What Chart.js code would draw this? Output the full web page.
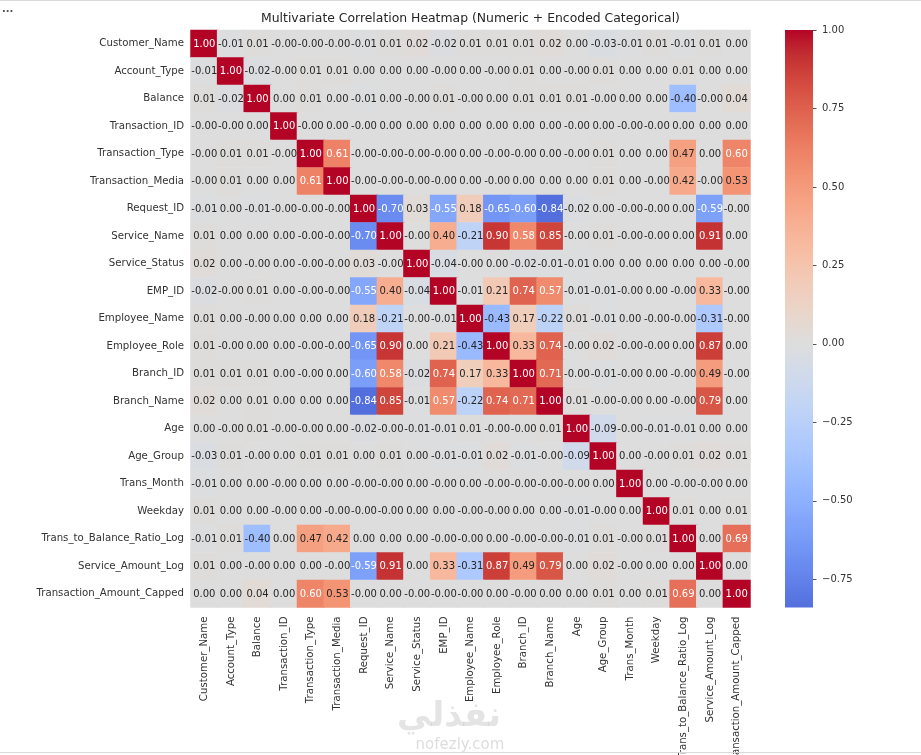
<!DOCTYPE html>
<html>
<head>
<meta charset="utf-8">
<script src="https://cdn.jsdelivr.net/npm/chart.js@4.4.1/dist/chart.umd.min.js"></script>
<style>
  html, body { margin: 0; padding: 0; background: #fff; }
  #wrap { position: relative; width: 921px; height: 755px; overflow: hidden; }
  .rule { position: absolute; left: 0; width: 921px; height: 1px; background: #d9d9d9; }
  #dots { position: absolute; left: 2px; top: 3px; font: bold 10px "DejaVu Sans"; color: #555; }
</style>
</head>
<body>
<div id="wrap">
  <canvas id="heat"></canvas>
  <div class="rule" style="top:0"></div>
  <div class="rule" style="top:752px"></div>
  <div id="dots">...</div>
</div>
<script>
const features = ['Customer_Name', 'Account_Type', 'Balance', 'Transaction_ID', 'Transaction_Type',
  'Transaction_Media', 'Request_ID', 'Service_Name', 'Service_Status', 'EMP_ID', 'Employee_Name',
  'Employee_Role', 'Branch_ID', 'Branch_Name', 'Age', 'Age_Group', 'Trans_Month', 'Weekday',
  'Trans_to_Balance_Ratio_Log', 'Service_Amount_Log', 'Transaction_Amount_Capped'];

// one row of the correlation matrix per feature (-0.00 kept as negative zero)
const customerName   = [1.00,-0.01,0.01,-0.00,-0.00,-0.00,-0.01,0.01,0.02,-0.02,0.01,0.01,0.01,0.02,0.00,-0.03,-0.01,0.01,-0.01,0.01,0.00];
const accountType    = [-0.01,1.00,-0.02,-0.00,0.01,0.01,0.00,0.00,0.00,-0.00,0.00,-0.00,0.01,0.00,-0.00,0.01,0.00,0.00,0.01,0.00,0.00];
const balance        = [0.01,-0.02,1.00,0.00,0.01,0.00,-0.01,0.00,-0.00,0.01,-0.00,0.00,0.01,0.01,0.01,-0.00,0.00,0.00,-0.40,-0.00,0.04];
const transactionId  = [-0.00,-0.00,0.00,1.00,-0.00,0.00,-0.00,0.00,0.00,0.00,0.00,0.00,0.00,0.00,-0.00,0.00,-0.00,-0.00,0.00,0.00,0.00];
const transType      = [-0.00,0.01,0.01,-0.00,1.00,0.61,-0.00,-0.00,-0.00,-0.00,0.00,-0.00,-0.00,0.00,-0.00,0.01,0.00,0.00,0.47,0.00,0.60];
const transMedia     = [-0.00,0.01,0.00,0.00,0.61,1.00,-0.00,-0.00,-0.00,-0.00,0.00,-0.00,0.00,0.00,0.00,0.01,0.00,-0.00,0.42,-0.00,0.53];
const requestId      = [-0.01,0.00,-0.01,-0.00,-0.00,-0.00,1.00,-0.70,0.03,-0.55,0.18,-0.65,-0.60,-0.84,-0.02,0.00,-0.00,-0.00,0.00,-0.59,-0.00];
const serviceName    = [0.01,0.00,0.00,0.00,-0.00,-0.00,-0.70,1.00,-0.00,0.40,-0.21,0.90,0.58,0.85,-0.00,0.01,-0.00,-0.00,0.00,0.91,0.00];
const serviceStatus  = [0.02,0.00,-0.00,0.00,-0.00,-0.00,0.03,-0.00,1.00,-0.04,-0.00,0.00,-0.02,-0.01,-0.01,0.00,0.00,0.00,0.00,0.00,-0.00];
const empId          = [-0.02,-0.00,0.01,0.00,-0.00,-0.00,-0.55,0.40,-0.04,1.00,-0.01,0.21,0.74,0.57,-0.01,-0.01,-0.00,0.00,-0.00,0.33,-0.00];
const employeeName   = [0.01,0.00,-0.00,0.00,0.00,0.00,0.18,-0.21,-0.00,-0.01,1.00,-0.43,0.17,-0.22,0.01,-0.01,0.00,-0.00,-0.00,-0.31,-0.00];
const employeeRole   = [0.01,-0.00,0.00,0.00,-0.00,-0.00,-0.65,0.90,0.00,0.21,-0.43,1.00,0.33,0.74,-0.00,0.02,-0.00,-0.00,0.00,0.87,0.00];
const branchId       = [0.01,0.01,0.01,0.00,-0.00,0.00,-0.60,0.58,-0.02,0.74,0.17,0.33,1.00,0.71,-0.00,-0.01,-0.00,0.00,-0.00,0.49,-0.00];
const branchName     = [0.02,0.00,0.01,0.00,0.00,0.00,-0.84,0.85,-0.01,0.57,-0.22,0.74,0.71,1.00,0.01,-0.00,-0.00,0.00,-0.00,0.79,0.00];
const age            = [0.00,-0.00,0.01,-0.00,-0.00,0.00,-0.02,-0.00,-0.01,-0.01,0.01,-0.00,-0.00,0.01,1.00,-0.09,-0.00,-0.01,-0.01,0.00,0.00];
const ageGroup       = [-0.03,0.01,-0.00,0.00,0.01,0.01,0.00,0.01,0.00,-0.01,-0.01,0.02,-0.01,-0.00,-0.09,1.00,0.00,-0.00,0.01,0.02,0.01];
const transMonth     = [-0.01,0.00,0.00,-0.00,0.00,0.00,-0.00,-0.00,0.00,-0.00,0.00,-0.00,-0.00,-0.00,-0.00,0.00,1.00,0.00,-0.00,-0.00,0.00];
const weekday        = [0.01,0.00,0.00,-0.00,0.00,-0.00,-0.00,-0.00,0.00,0.00,-0.00,-0.00,0.00,0.00,-0.01,-0.00,0.00,1.00,0.01,0.00,0.01];
const balanceRatio   = [-0.01,0.01,-0.40,0.00,0.47,0.42,0.00,0.00,0.00,-0.00,-0.00,0.00,-0.00,-0.00,-0.01,0.01,-0.00,0.01,1.00,0.00,0.69];
const serviceAmount  = [0.01,0.00,-0.00,0.00,0.00,-0.00,-0.59,0.91,0.00,0.33,-0.31,0.87,0.49,0.79,0.00,0.02,-0.00,0.00,0.00,1.00,0.00];
const amountCapped   = [0.00,0.00,0.04,0.00,0.60,0.53,-0.00,0.00,-0.00,-0.00,-0.00,0.00,-0.00,0.00,0.00,0.01,0.00,0.01,0.69,0.00,1.00];

const matrix = [customerName, accountType, balance, transactionId, transType, transMedia, requestId,
  serviceName, serviceStatus, empId, employeeName, employeeRole, branchId, branchName, age, ageGroup,
  transMonth, weekday, balanceRatio, serviceAmount, amountCapped];

const cbarTicks = [-0.75, -0.50, -0.25, 0.00, 0.25, 0.50, 0.75, 1.00];

// coolwarm colormap control colours
const coolwarmStops = [
  [59,76,192],[68,90,204],[77,104,215],[87,117,225],[98,130,234],[108,142,241],[119,154,247],
  [130,165,251],[141,176,254],[152,185,255],[163,194,255],[174,201,253],[184,208,249],[194,213,244],
  [204,217,238],[213,219,230],[221,221,221],[229,216,209],[236,211,197],[241,204,185],[245,196,173],
  [247,187,160],[247,177,148],[247,166,135],[244,154,123],[241,141,111],[236,127,99],[229,112,88],
  [222,96,77],[213,80,66],[203,62,56],[192,40,47],[180,4,38]];

const vmin = Math.min(...matrix.flat());
const vmax = Math.max(...matrix.flat());
const vrange = Math.max(vmax, -vmin); // centred on 0

function coolwarm(t) {
  t = Math.min(1, Math.max(0, t));
  const p = t * (coolwarmStops.length - 1);
  const i = Math.min(Math.floor(p), coolwarmStops.length - 2);
  const f = p - i;
  const a = coolwarmStops[i], b = coolwarmStops[i + 1];
  return a.map((c, k) => c + (b[k] - c) * f);
}
function valueRgb(v) { return coolwarm((v + vrange) / (2 * vrange)); }
function css(rgb) { return 'rgb(' + rgb.map(Math.round).join(',') + ')'; }
function luminance(rgb) {
  const lin = rgb.map(c => { c /= 255; return c <= 0.03928 ? c / 12.92 : Math.pow((c + 0.055) / 1.055, 2.4); });
  return 0.2126 * lin[0] + 0.7152 * lin[1] + 0.0722 * lin[2];
}
function fmtCell(v) { return (Object.is(v, -0) ? '-' : '') + v.toFixed(2); }
function fmtBar(v) { return v < 0 ? '\u2212' + Math.abs(v).toFixed(2) : v.toFixed(2); }

const cells = [];
matrix.forEach((row, i) => {
  row.forEach((v, j) => cells.push({ x: features[j], y: features[i], v: v }));
});

Chart.defaults.font.family = '"DejaVu Sans", sans-serif';
Chart.defaults.color = '#262626';

const cellSize = ctx => {
  const s = ctx.chart.scales;
  if (!s.x || !s.y) return 10;
  const side = Math.max(s.x.width, s.y.height) / features.length;
  return (side + 0.6) / Math.SQRT2;
};

const extras = {
  id: 'extras',
  afterDatasetsDraw(chart) {
    const ctx = chart.ctx;
    const meta = chart.getDatasetMeta(0);
    ctx.save();
    ctx.font = '10px "DejaVu Sans"';
    ctx.textAlign = 'center';
    ctx.textBaseline = 'middle';
    meta.data.forEach((el, k) => {
      const v = cells[k].v;
      ctx.fillStyle = luminance(valueRgb(v)) > 0.408 ? '#262626' : '#ffffff';
      ctx.fillText(fmtCell(v), el.x, el.y + 0.5);
    });
    ctx.restore();
  },
  afterDraw(chart) {
    const { ctx, chartArea } = chart;
    const cb = chart.scales.cb;
    ctx.save();
    // title
    ctx.font = '12.4px "DejaVu Sans"';
    ctx.fillStyle = '#262626';
    ctx.textAlign = 'center';
    ctx.textBaseline = 'middle';
    ctx.fillText('Multivariate Correlation Heatmap (Numeric + Encoded Categorical)',
      (chartArea.left + chartArea.right) / 2, 19);

    // colour bar
    const x0 = chartArea.right + 35, w = 28;
    const yTop = cb.getPixelForValue(vmax), yBot = cb.getPixelForValue(vmin);
    const grad = ctx.createLinearGradient(0, yBot, 0, yTop);
    const n = 48;
    for (let s = 0; s <= n; s++) {
      grad.addColorStop(s / n, css(valueRgb(vmin + (vmax - vmin) * s / n)));
    }
    ctx.fillStyle = grad;
    ctx.fillRect(x0, yTop, w, yBot - yTop);
    ctx.strokeStyle = '#262626';
    ctx.lineWidth = 0.8;
    cb.ticks.forEach(t => {
      const y = Math.round(cb.getPixelForValue(t.value)) + 0.5;
      ctx.beginPath();
      ctx.moveTo(x0 + w, y);
      ctx.lineTo(x0 + w + 3.5, y);
      ctx.stroke();
    });

    // watermark
    ctx.textAlign = 'center';
    ctx.fillStyle = 'rgba(120,120,120,0.2)';
    ctx.font = 'bold 34px "DejaVu Sans"';
    ctx.fillText('نفذلي', 449, 717);
    ctx.fillStyle = 'rgba(120,120,120,0.25)';
    ctx.font = '15px "DejaVu Sans"';
    ctx.fillText('nofezly.com', 460, 745);
    ctx.restore();
  }
};

new Chart(document.getElementById('heat'), {
  type: 'scatter',
  data: {
    datasets: [{
      data: cells,
      xAxisID: 'x',
      yAxisID: 'y',
      pointStyle: 'rect',
      radius: cellSize,
      hoverRadius: cellSize,
      borderWidth: 0,
      hoverBorderWidth: 0,
      backgroundColor: c => c.raw ? css(valueRgb(c.raw.v)) : '#ddd'
    }]
  },
  options: {
    responsive: true,
    maintainAspectRatio: false,
    animation: false,
    events: [],
    layout: { padding: { top: 30, left: 0, right: 0, bottom: 0 } },
    plugins: { legend: { display: false }, tooltip: { enabled: false }, title: { display: false } },
    scales: {
      x: {
        type: 'category',
        labels: features,
        offset: true,
        position: 'bottom',
        grid: { display: false, drawTicks: false },
        border: { display: false },
        ticks: { autoSkip: false, minRotation: 90, maxRotation: 90, padding: 9, color: '#333',
          font: { size: 10.2 } },
        afterFit: s => { s.height = 147.5; }
      },
      y: {
        type: 'category',
        labels: features,
        offset: true,
        position: 'left',
        grid: { display: false, drawTicks: false },
        border: { display: false },
        ticks: { autoSkip: false, padding: 7, color: '#333', font: { size: 10.2 } },
        afterFit: s => { s.width = 191; s.paddingTop = 6; s.paddingBottom = 6; }
      },
      cb: {
        type: 'linear',
        axis: 'y',
        position: 'right',
        min: vmin,
        max: vmax,
        grid: { display: false, drawTicks: false },
        border: { display: false },
        ticks: { padding: 72, color: '#333', font: { size: 10 }, callback: v => fmtBar(v) },
        afterBuildTicks: s => { s.ticks = cbarTicks.map(v => ({ value: v })); },
        afterFit: s => { s.width = 171; s.paddingTop = 6; s.paddingBottom = 6; }
      }
    }
  },
  plugins: [extras]
});
</script>
</body>
</html>
